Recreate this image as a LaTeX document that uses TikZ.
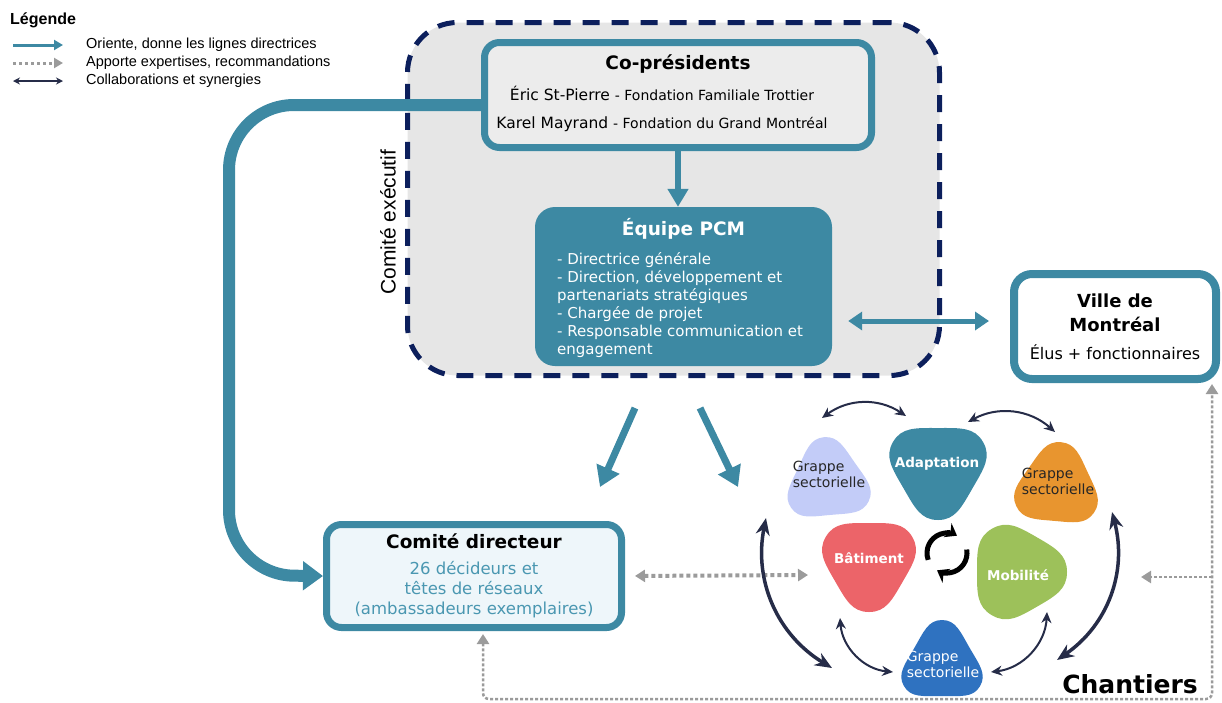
\documentclass[tikz,border=0pt]{standalone}
\usepackage{fontspec}
\setmainfont{DejaVu Sans}
\newfontfamily\arial{Liberation Sans}
\usetikzlibrary{arrows.meta,calc}
\definecolor{pcmteal}{HTML}{3D89A3}
\definecolor{execnavy}{HTML}{0C1F5C}
\definecolor{execgray}{HTML}{E6E6E6}
\definecolor{cpfill}{HTML}{ECECEC}
\definecolor{cdfill}{HTML}{EEF6FA}
\definecolor{cdtext}{HTML}{4A97B1}
\definecolor{lavblob}{HTML}{C3CCF8}
\definecolor{orblob}{HTML}{E8952F}
\definecolor{redblob}{HTML}{EC6469}
\definecolor{greenblob}{HTML}{9DC15A}
\definecolor{blueblob}{HTML}{2F72C0}
\definecolor{darkarr}{HTML}{262C48}
\definecolor{dotgray}{HTML}{9B9B9B}
\newcommand\fsz[2]{\fontsize{#1}{#2}\selectfont}
% blob: centre, tip radius, edge radius, visual angle of a tip, colour
\newcommand\blob[5]{\begin{scope}[shift={#1}]\fill[#5] plot[smooth cycle, tension=0.9] coordinates {(-#4:#2) (-#4-60:#3) (-#4-120:#2) (-#4-180:#3) (-#4-240:#2) (-#4-300:#3)};\end{scope}}
\begin{document}
\begin{tikzpicture}[x=1pt,y=-1pt,
  every node/.append style={inner sep=0pt},
  exec/.style={draw=execnavy, fill=execgray, line width=5pt, dash pattern=on 17pt off 12pt, rounded corners=50pt, minimum width=532pt, minimum height=353pt},
  tbox/.style={draw=pcmteal, line width=7pt, rounded corners=15pt, align=center},
  tarr/.style={draw=pcmteal, line width=6pt, -{Triangle[width=20pt,length=18pt]}},
  tdbl/.style={draw=pcmteal, line width=5pt, {Triangle[width=18pt,length=14pt]}-{Triangle[width=18pt,length=14pt]}},
  tbig/.style={draw=pcmteal, line width=12pt, -{Triangle[width=28pt,length=20pt]}},
  gdbl/.style={draw=dotgray, line width=4pt, dash pattern=on 4pt off 3pt, {Triangle[width=12pt,length=10pt]}-{Triangle[width=12pt,length=10pt]}},
  gfb/.style={draw=dotgray, line width=2.5pt, dash pattern=on 3pt off 2pt},
  gtip/.style={-{Triangle[width=12pt,length=10pt]}},
  darr/.style={draw=darkarr, line width=2pt, {Stealth[length=11pt,width=10pt]}-{Stealth[length=11pt,width=10pt]}},
  darrb/.style={draw=darkarr, line width=3.5pt, {Stealth[length=17pt,width=14pt]}-{Stealth[length=17pt,width=14pt]}},
  cycarr/.style={draw=black, line width=5pt, -{Stealth[length=11pt,width=16pt]}},
  blobtxt/.style={font=\fsz{14}{16}, align=left, text=black!85},
  blobbold/.style={font=\bfseries\fsz{13.5}{16}, text=white},
  legtxt/.style={font=\arial\fsz{14.5}{17}, anchor=west}]
\useasboundingbox (0,0) rectangle (1222,702);

% Legend
\node[font=\arial\bfseries\fsz{16}{18}, anchor=base west] (leg) at (10,24) {Légende};
\coordinate (l1a) at (13,45); \coordinate (l1b) at (63,45);
\coordinate (l2a) at (13,63); \coordinate (l2b) at (63,63);
\coordinate (l3a) at (13,81); \coordinate (l3b) at (63,81);
\draw[draw=pcmteal, line width=3pt, -{Triangle[width=10pt,length=9pt]}] (l1a) -- (l1b);
\draw[draw=dotgray, line width=3pt, dash pattern=on 3pt off 3pt, -{Triangle[width=10pt,length=9pt]}] (l2a) -- (l2b);
\draw[draw=darkarr, line width=1.5pt, {Stealth[length=7pt,width=7pt]}-{Stealth[length=7pt,width=7pt]}] (l3a) -- (l3b);
\node[legtxt] (lt1) at (86,45) {Oriente, donne les lignes directrices};
\node[legtxt] (lt2) at (86,63) {Apporte expertises, recommandations};
\node[legtxt] (lt3) at (86,81) {Collaborations et synergies};

% Comité exécutif
\node[exec] (ce) at (673.5,199) {};
\node[font=\arial\fsz{21}{24}, rotate=90] (celab) at (388,222) {Comité exécutif};

% Co-présidents
\node[tbox, fill=cpfill, minimum width=387pt, minimum height=105pt] (cp) at (678,95) {};
\node[font=\bfseries\fsz{18.5}{22}] (cpt) at (678,64) {Co-présidents};
\node[font=\fsz{15.5}{28}, align=center] (cpn) at (662,109)
  {Éric St-Pierre {\fsz{14}{18}- Fondation Familiale Trottier}\\Karel Mayrand {\fsz{14}{18}- Fondation du Grand Montréal}};

% Équipe PCM
\node[fill=pcmteal, rounded corners=20pt, minimum width=297pt, minimum height=159pt] (eq) at (683.5,286.5) {};
\node[font=\bfseries\fsz{18.5}{22}, text=white] (eqt) at (683.5,229) {Équipe PCM};
\node[font=\fsz{15}{18}, text=white, align=left, anchor=north west] (eql) at (557,252)
  {- Directrice générale\\- Direction, développement et\\partenariats stratégiques\\- Chargée de projet\\- Responsable communication et\\engagement};

% Ville de Montréal
\node[tbox, line width=8pt, fill=white, rounded corners=18pt, minimum width=202pt, minimum height=105pt, font=\fsz{16}{24}] (ville) at (1115,326.5)
  {\textbf{\fsz{18}{24}Ville de}\\\textbf{\fsz{18}{24}Montréal}\\[4pt]Élus + fonctionnaires};

% Comité directeur
\node[tbox, fill=cdfill, minimum width=295pt, minimum height=103pt, font=\fsz{16.5}{20}, text=cdtext] (cd) at (474,576)
  {\textcolor{black}{\bfseries\fsz{18.5}{20}Comité directeur}\\[6pt]26 décideurs et\\têtes de réseaux\\(ambassadeurs exemplaires)};

% Teal arrows
\coordinate (hy) at (0,105);
\coordinate (lc) at (229,575);
\draw[tbig, rounded corners=65pt] (cp.west |- hy) -| (lc) -- (cd.west);
\draw[tarr] (cp.south) -- (cp.south |- eq.north);
\coordinate (ah) at (0,321);
\draw[tdbl, shorten <=16pt, shorten >=21pt] (eq.east |- ah) -- (ville.west |- ah);
\coordinate (a1s) at (635,408); \coordinate (a1e) at (600,487);
\coordinate (a2s) at (700,408); \coordinate (a2e) at (738,487);
\draw[tarr, line width=7pt, -{Triangle[width=24pt,length=20pt]}] (a1s) -- (a1e);
\draw[tarr, line width=7pt, -{Triangle[width=24pt,length=20pt]}] (a2s) -- (a2e);

% Gray dotted
\coordinate (gr) at (808,575);
\draw[gdbl, shorten <=10pt] (cd.east) -- (gr);
\coordinate (fbl) at (483,699);
\coordinate (fbr) at (1212,699);
\coordinate (fbv) at (1212,577);
\coordinate (fbt) at (1141,577);
\draw[gfb, {Triangle[width=12pt,length=10pt]}-{Triangle[width=12pt,length=10pt]}, rounded corners=6pt, shorten <=3pt, shorten >=1pt] (fbl |- cd.south) -- (fbl) -- (fbr) -- (fbr |- ville.south);
\draw[gfb, gtip] (fbv) -- (fbt);

% Chantiers blobs
\blob{(828,482)}{45}{33}{95}{lavblob}
\blob{(938,468)}{52}{40}{270}{pcmteal}
\blob{(1057,487)}{45}{34}{85}{orblob}
\blob{(869,562)}{50}{39}{270}{redblob}
\blob{(1017,572)}{50}{40}{0}{greenblob}
\blob{(942,664)}{44}{32}{90}{blueblob}
\node[blobtxt] (g1) at (829,474) {Grappe\\sectorielle};
\node[blobbold] (adapt) at (937,464) {Adaptation};
\node[blobtxt] (g2) at (1058,481) {Grappe\\sectorielle};
\node[blobbold] (bat) at (869,558) {Bâtiment};
\node[blobbold] (mob) at (1018,575) {Mobilité};
\node[blobtxt, text=white] (g3) at (943,664) {Grappe\\sectorielle};

% Cycle
\coordinate (cyc) at (947,553);
\draw[cycarr] ($(cyc)+(-200:20)$) arc (-200:-60:20);
\draw[cycarr] ($(cyc)+(-10:20)$) arc (-10:120:20);

% Dark collaboration arrows
\coordinate (tl1) at (822,418); \coordinate (tl2) at (906,416);
\coordinate (tr1) at (968,422); \coordinate (tr2) at (1055,432);
\coordinate (lb1) at (766,518); \coordinate (lb2) at (832,668);
\coordinate (rb1) at (1112,512); \coordinate (rb2) at (1057,660);
\coordinate (bl1) at (840,618); \coordinate (bl2) at (893,672);
\coordinate (br1) at (1047,612); \coordinate (br2) at (991,672);
\draw[darr] (tl1) to[bend left=35] (tl2);
\draw[darr] (tr1) to[bend left=35] (tr2);
\draw[darrb] (lb1) to[bend right=35] (lb2);
\draw[darrb] (rb1) to[bend left=35] (rb2);
\draw[darr] (bl1) to[bend right=40] (bl2);
\draw[darr] (br1) to[bend left=40] (br2);

\node[font=\bfseries\fsz{25}{30}, anchor=base east] (chan) at (1198,693) {Chantiers};
\end{tikzpicture}
\end{document}
